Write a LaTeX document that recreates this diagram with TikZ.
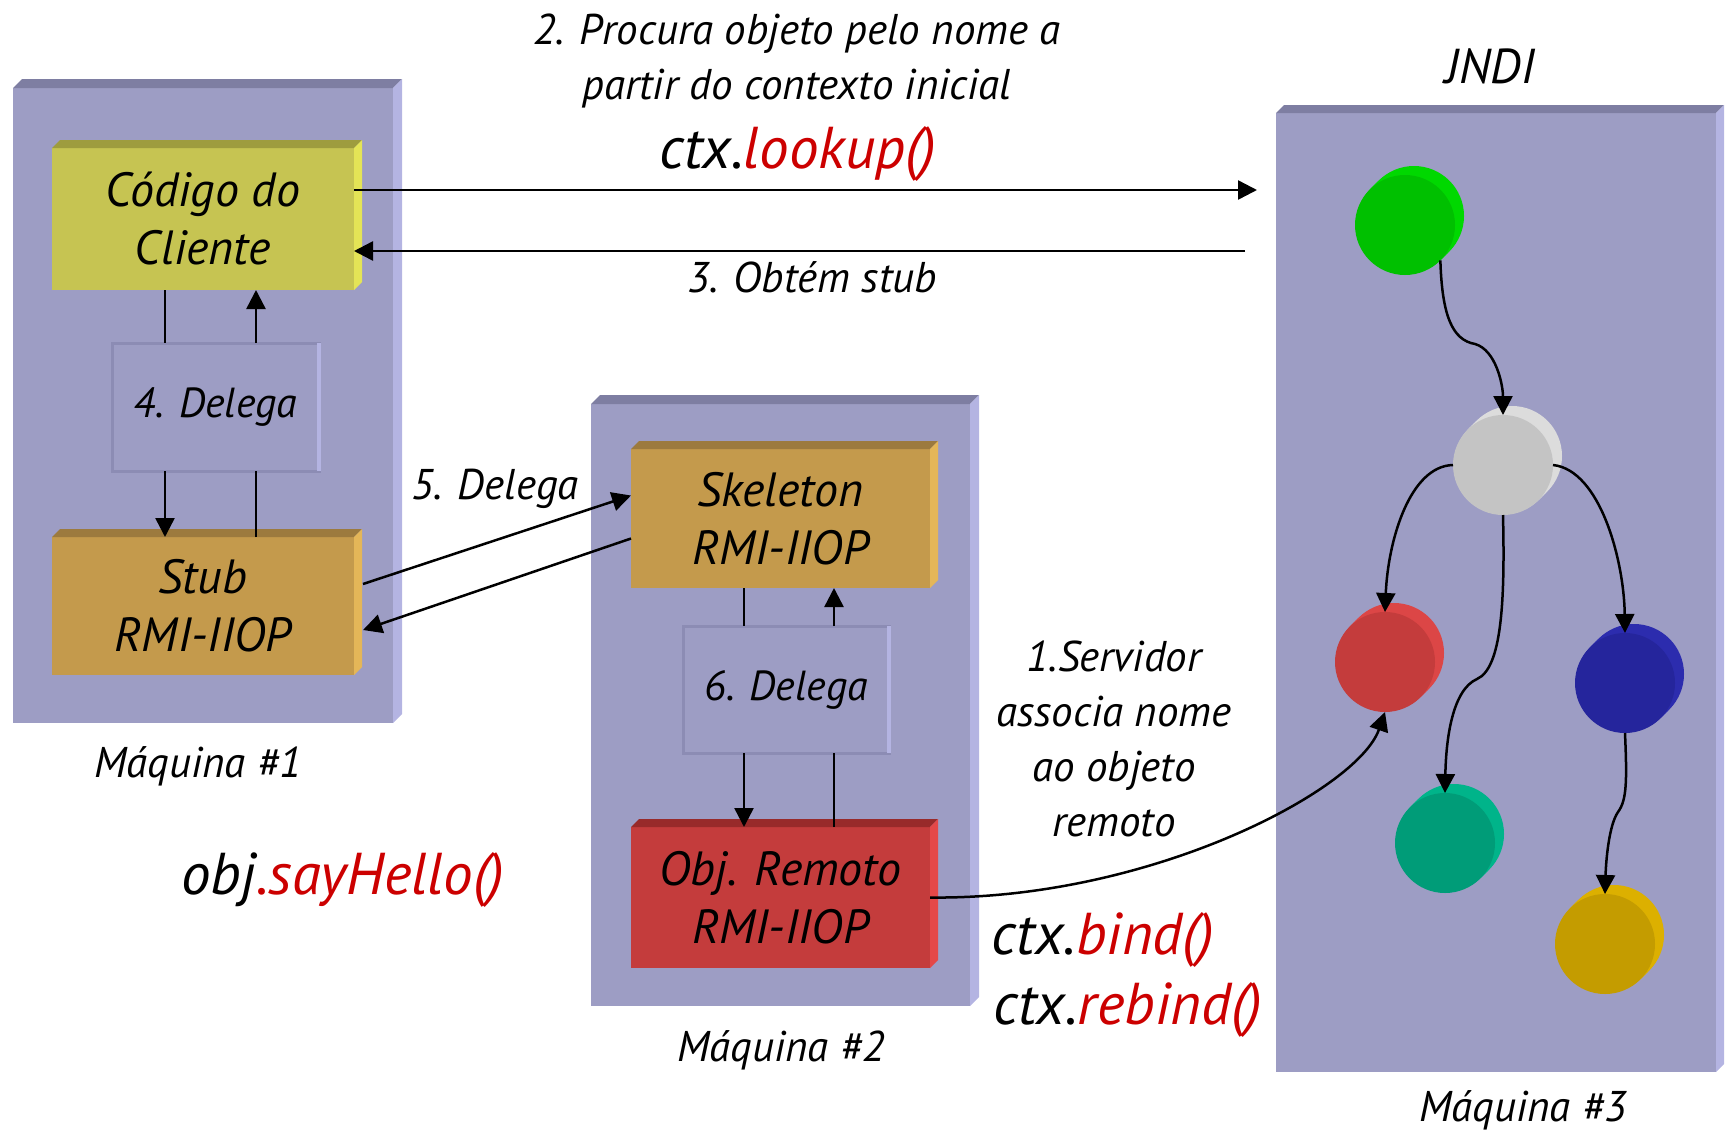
\documentclass[tikz,border=0pt]{standalone}
\usepackage{fontspec}
\setmainfont{PT Sans}
\usetikzlibrary{arrows.meta,calc}

\definecolor{panelF}{HTML}{9D9DC4}
\definecolor{panelT}{HTML}{7E7EA2}
\definecolor{panelS}{HTML}{B4B4E2}
\definecolor{panelD}{HTML}{8C8CB4}
\definecolor{cliF}{HTML}{C6C452}
\definecolor{cliT}{HTML}{9E9C3E}
\definecolor{cliS}{HTML}{E4E456}
\definecolor{stubF}{HTML}{C49A4C}
\definecolor{stubT}{HTML}{9C7A3E}
\definecolor{stubS}{HTML}{E4B658}
\definecolor{objF}{HTML}{C43C3C}
\definecolor{objT}{HTML}{982A2A}
\definecolor{objS}{HTML}{E44848}
\definecolor{codeRed}{HTML}{CC0000}
\definecolor{gF}{HTML}{00C000}\definecolor{gR}{HTML}{00D800}
\definecolor{wF}{HTML}{C4C4C4}\definecolor{wR}{HTML}{DCDCDC}
\definecolor{rF}{HTML}{C43C3C}\definecolor{rR}{HTML}{DC4646}
\definecolor{bF}{HTML}{25259C}\definecolor{bR}{HTML}{2C2CAE}
\definecolor{tF}{HTML}{009C78}\definecolor{tR}{HTML}{00B48A}
\definecolor{yF}{HTML}{C49C00}\definecolor{yR}{HTML}{DCB000}

% top and right faces of a raised slab: node, depth, top colour, side colour
\newcommand\bevel[4]{%
  \fill[#3] (#1.north west) -- ++(#2,-#2) -- ([shift={(#2,-#2)}]#1.north east) -- (#1.north east) -- cycle;
  \fill[#4] (#1.north east) -- ++(#2,-#2) -- ([shift={(#2,-#2)}]#1.south east) -- (#1.south east) -- cycle;
}
% a thick disc seen slightly from the side: name, x, y, face colour, rim colour
\newcommand\disc[5]{%
  \foreach \k in {9,7,...,1}{\fill[#5] ({#2+\k},{#3-\k}) circle[radius=50pt];}
  \node[disc, fill=#4] (#1) at (#2,#3) {};
}

\tikzset{
  slab/.style={rectangle, inner sep=0pt, outer sep=0pt, anchor=north west},
  boxtxt/.style={font=\itshape\fontsize{48}{58}\selectfont, align=center, text=black},
  dbox/.style={slab, fill=panelF, draw=panelD, line width=3pt, font=\itshape\fontsize{42}{50}\selectfont},
  lbl/.style={font=\itshape\fontsize{43}{55}\selectfont, align=center, inner sep=0pt},
  big/.style={font=\itshape\fontsize{59}{64}\selectfont, inner sep=0pt},
  link/.style={line width=2.5pt},
  conn/.style={link, -{Triangle[width=19pt,length=19pt]}},
  disc/.style={circle, inner sep=0pt, outer sep=0pt, minimum size=100pt},
}

\begin{document}
\begin{tikzpicture}[x=1pt, y=-1pt]
\useasboundingbox (0,0) rectangle (1725,1133);

% ---------- machine 1 ----------
\node[slab, fill=panelF, minimum width=380pt, minimum height=635pt] (m1) at (13,88) {};
\bevel{m1}{9}{panelT}{panelS}
\node[slab, fill=cliF, minimum width=302pt, minimum height=142pt, boxtxt] (cod) at (52,148) {Código do\\Cliente};
\bevel{cod}{8}{cliT}{cliS}
\node[dbox, minimum width=207pt, minimum height=128pt] (d4) at (112,343) {4. Delega};
\draw[panelS, line width=4pt] (d4.north east) -- (d4.south east);
\node[slab, fill=stubF, minimum width=302pt, minimum height=138pt, boxtxt] (stub) at (52,537) {Stub\\RMI-IIOP};
\bevel{stub}{8}{stubT}{stubS}
\node[lbl] (mq1) at (198,766) {Máquina \#1};

\coordinate (xl1) at (165,0);
\coordinate (xr1) at (256,0);
\draw[link] (cod.south -| xl1) -- (d4.north -| xl1);
\draw[conn] (d4.south -| xl1) -- (stub.north -| xl1);
\draw[link] (stub.north -| xr1) -- (d4.south -| xr1);
\draw[conn] (d4.north -| xr1) -- (cod.south -| xr1);

% ---------- machine 2 ----------
\node[slab, fill=panelF, minimum width=379pt, minimum height=602pt] (m2) at (591,404) {};
\bevel{m2}{9}{panelT}{panelS}
\node[slab, fill=stubF, minimum width=299pt, minimum height=139pt, boxtxt] (skel) at (631,449) {Skeleton\\RMI-IIOP};
\bevel{skel}{8}{stubT}{stubS}
\node[dbox, minimum width=206pt, minimum height=127pt] (d6) at (683,626) {6. Delega};
\draw[panelS, line width=4pt] (d6.north east) -- (d6.south east);
\node[slab, fill=objF, minimum width=299pt, minimum height=141pt, boxtxt] (obj) at (631,827) {Obj. Remoto\\RMI-IIOP};
\bevel{obj}{8}{objT}{objS}
\node[lbl] (mq2) at (781,1050) {Máquina \#2};

\coordinate (xl2) at (744,0);
\coordinate (xr2) at (834,0);
\draw[link] (skel.south -| xl2) -- (d6.north -| xl2);
\draw[conn] (d6.south -| xl2) -- (obj.north -| xl2);
\draw[link] (obj.north -| xr2) -- (d6.south -| xr2);
\draw[conn] (d6.north -| xr2) -- (skel.south -| xr2);

% ---------- machine 3: JNDI ----------
\node[slab, fill=panelF, minimum width=440pt, minimum height=959pt] (m3) at (1276,113) {};
\bevel{m3}{8}{panelT}{panelS}
\node[lbl, font=\itshape\fontsize{49}{55}\selectfont] (jndi) at (1490,66) {JNDI};
\node[lbl] (mq3) at (1523,1110) {Máquina \#3};

\disc{green}{1405}{225}{gF}{gR}
\disc{grey}{1503}{465}{wF}{wR}
\disc{red}{1385}{662}{rF}{rR}
\disc{blue}{1625}{683}{bF}{bR}
\disc{teal}{1445}{843}{tF}{tR}
\disc{yellow}{1605}{944}{yF}{yR}

\coordinate (kinkA) at (1475,344);
\coordinate (kinkB) at (1477,679);
\coordinate (kinkC) at (1618,812);
\draw[conn] (green.-45) .. controls (1442,315) and (1452,340) .. (kinkA)
  .. controls (1496,350) and (1503,385) .. (grey.north);
\draw[conn] (grey.west) .. controls (1410,466) and (1388,540) .. (red.north);
\draw[conn] (grey.east) .. controls (1600,470) and (1624,560) .. (blue.north);
\draw[conn] (grey.south) .. controls (1505,600) and (1502,668) .. (kinkB)
  .. controls (1452,690) and (1446,740) .. (teal.north);
\draw[conn] (blue.south) .. controls (1627,780) and (1627,800) .. (kinkC)
  .. controls (1609,825) and (1606,860) .. (yellow.north);

% ---------- calls between machines ----------
\coordinate (lk) at (1257,190);
\coordinate (rt) at (1245,251);
\draw[conn] (cod.east |- lk) -- (lk);
\draw[conn] (rt) -- (cod.east |- rt);
\draw[conn] ([shift={(9,-22)}]stub.east) -- ([yshift=23pt]skel.west);
\draw[conn] ([yshift=-20pt]skel.west) -- ([shift={(9,24)}]stub.east);
\draw[conn] (obj.east) .. controls (1150,900) and (1358,790) .. (red.south);

% ---------- labels ----------
\node[lbl] (t2) at (797,61) {2. Procura objeto pelo nome a\\partir do contexto inicial};
\node[big] (tlk) at (798,154) {ctx.\textcolor{codeRed}{lookup()}};
\node[lbl] (t3) at (812,277) {3. Obtém stub};
\node[lbl] (t5) at (495,489) {5. Delega};
\node[big] (say) at (343,880) {obj\textcolor{codeRed}{.sayHello()}};
\node[lbl] (t1) at (1114,739) {1.Servidor\\associa nome\\ao objeto\\remoto};
\node[big] (tb) at (1103,940) {ctx.\textcolor{codeRed}{bind()}};
\node[big] (trb) at (1128,1010) {ctx.\textcolor{codeRed}{rebind()}};
\end{tikzpicture}
\end{document}
